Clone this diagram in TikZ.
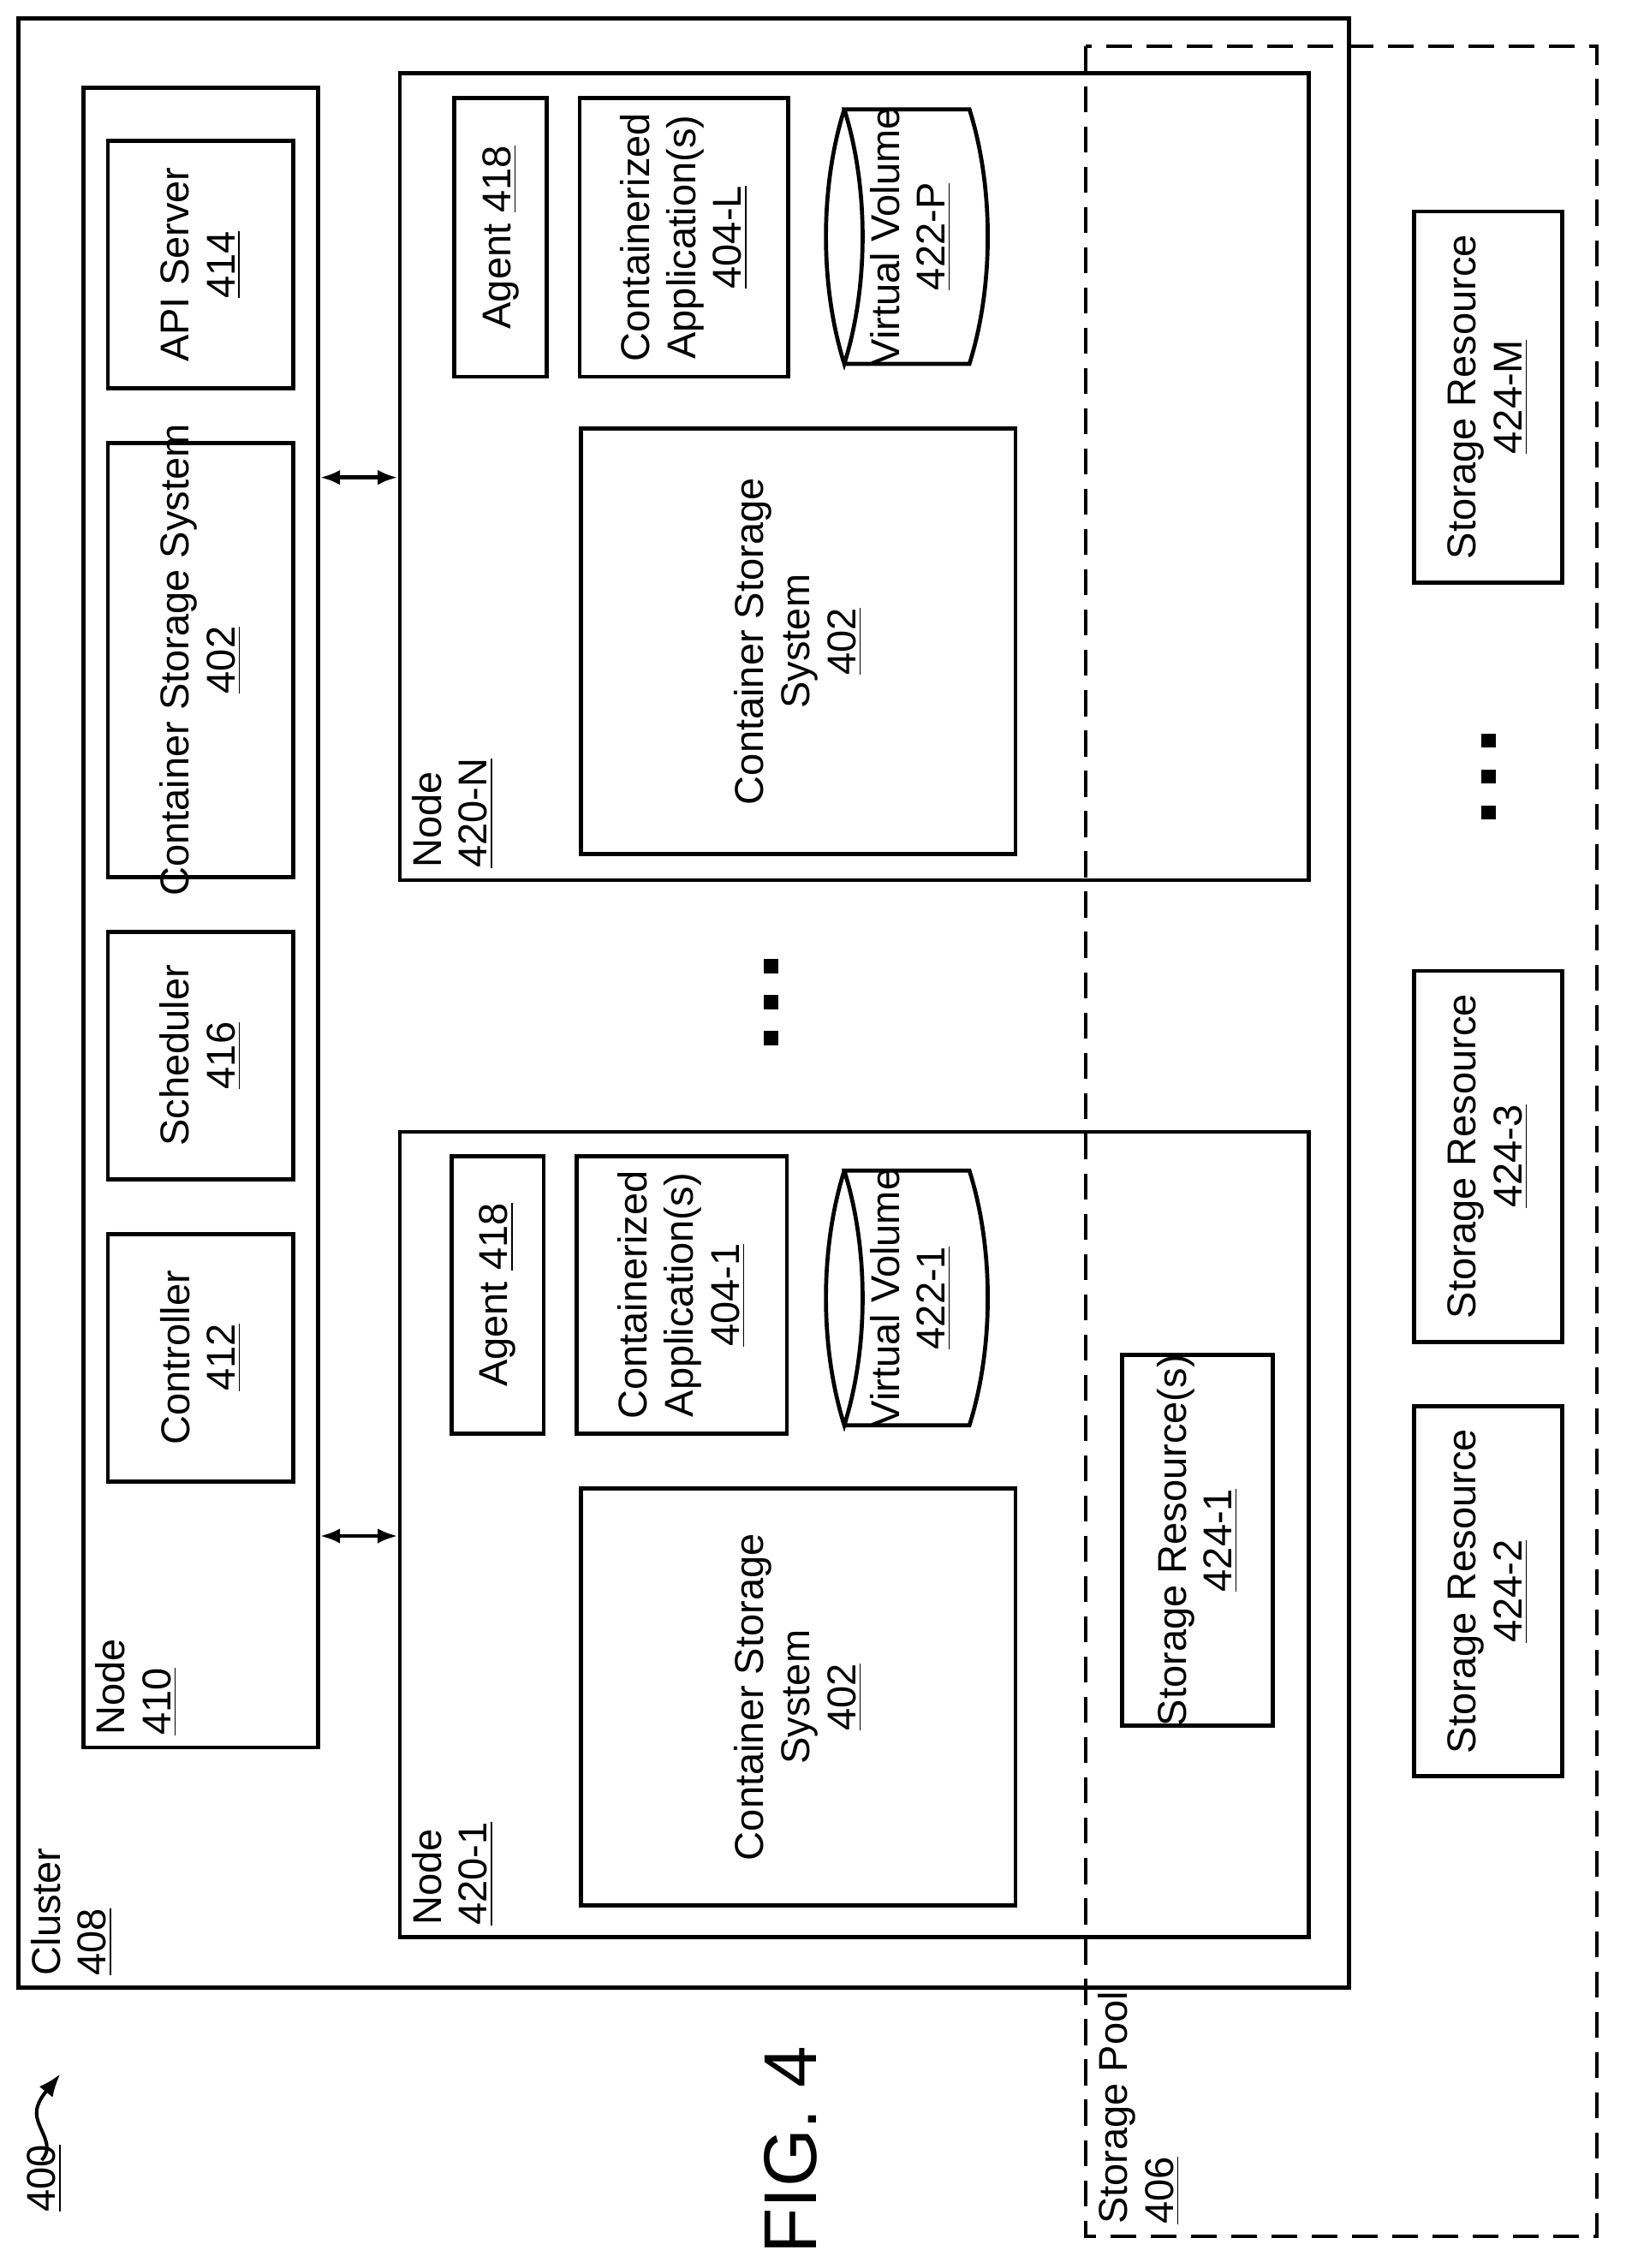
\documentclass[tikz,border=0pt]{standalone}
\usepackage{fontspec}
\setmainfont{Liberation Sans}
\usetikzlibrary{fit,arrows.meta}
\tikzset{
  box/.style={draw, line width=1.4pt},
  txt/.style={rotate=90, align=center, font=\fontsize{14}{16}\selectfont},
  lbl/.style={rotate=90, align=left, anchor=north west, inner sep=4pt, font=\fontsize{14}{16}\selectfont},
  dot/.style={fill, minimum size=5pt, inner sep=0pt}
}
\begin{document}
\begin{tikzpicture}[x=0.5pt, y=-0.5pt]
\useasboundingbox (0,0) rectangle (1130,1577);
% cluster and storage pool
\draw[box] (13,13) rectangle (938,1382);
\node[lbl] at (13,1382) {Cluster\\\underline{408}};
\draw[line width=1.2pt, dashed, dash pattern=on 9pt off 5pt] (755,32) rectangle (1110,1555);
\node[lbl] at (755,1555) {Storage Pool\\\underline{406}};
% node 410
\node[box, inner sep=0pt, fit={(58,61)(221,1215)}] (n410) {};
\node[lbl] at (58,1215) {Node\\\underline{410}};
\draw[box] (75,98) rectangle (204,270);
\node[txt] at (139.5,184) {API Server\\\underline{414}};
\draw[box] (75,308) rectangle (204,610);
\node[txt] at (139.5,459) {Container Storage System\\\underline{402}};
\draw[box] (75,648) rectangle (204,820);
\node[txt] at (139.5,734) {Scheduler\\\underline{416}};
\draw[box] (75,858) rectangle (204,1030);
\node[txt] at (139.5,944) {Controller\\\underline{412}};
% node 420-N
\node[box, inner sep=0pt, fit={(278,51)(910,612)}] (n420N) {};
\node[lbl] at (278,612) {Node\\\underline{420-N}};
\draw[box] (316,68) rectangle (380,262);
\node[txt] at (348,165) {Agent \underline{418}};
\draw[box] (403,68) rectangle (548,262);
\node[txt] at (475.5,165) {Containerized\\Application(s)\\\underline{404-L}};
\draw[box] (587,76) .. controls (570,130) and (570,199) .. (587,253)
  .. controls (604,199) and (604,130) .. (587,76) -- (674,76)
  .. controls (691,130) and (691,199) .. (674,253) -- (587,253);
\node[txt] at (633,164.5) {Virtual Volume\\\underline{422-P}};
\draw[box] (404,298) rectangle (706,594);
\node[txt] at (555,446) {Container Storage\\System\\\underline{402}};
% node 420-1
\node[box, inner sep=0pt, fit={(278,787)(910,1347)}] (n4201) {};
\node[lbl] at (278,1347) {Node\\\underline{420-1}};
\draw[box] (314,804) rectangle (378,997);
\node[txt] at (346,900.5) {Agent \underline{418}};
\draw[box] (401,804) rectangle (547,997);
\node[txt] at (474,900.5) {Containerized\\Application(s)\\\underline{404-1}};
\draw[box] (587,814) .. controls (570,868) and (570,937) .. (587,991)
  .. controls (604,937) and (604,868) .. (587,814) -- (674,814)
  .. controls (691,868) and (691,937) .. (674,991) -- (587,991);
\node[txt] at (633,902.5) {Virtual Volume\\\underline{422-1}};
\draw[box] (404,1035) rectangle (706,1325);
\node[txt] at (555,1180) {Container Storage\\System\\\underline{402}};
\draw[box] (780,942) rectangle (885,1200);
\node[txt] at (832.5,1071) {Storage Resource(s)\\\underline{424-1}};
% connectors
\coordinate (a1) at (0,332);
\coordinate (a2) at (0,1068);
\draw[line width=1.4pt, {Latex[length=7pt]}-{Latex[length=7pt]}] (n410.east |- a1) -- (n420N.west |- a1);
\draw[line width=1.4pt, {Latex[length=7pt]}-{Latex[length=7pt]}] (n410.east |- a2) -- (n4201.west |- a2);
% storage resources
\draw[box] (983,147) rectangle (1086,405);
\node[txt] at (1034.5,276) {Storage Resource\\\underline{424-M}};
\draw[box] (983,675) rectangle (1086,933);
\node[txt] at (1034.5,804) {Storage Resource\\\underline{424-3}};
\draw[box] (983,978) rectangle (1086,1235);
\node[txt] at (1034.5,1106.5) {Storage Resource\\\underline{424-2}};
% dots
\foreach \y in {672,697,722} \node[dot] at (536,\y) {};
\foreach \y in {515,540,565} \node[dot] at (1035,\y) {};
% figure label
\node[txt, anchor=west] (ref) at (31,1545) {\underline{400}};
\draw[line width=1.2pt, -{Latex[length=8pt]}] (29,1502) .. controls (40,1490) and (22,1478) .. (26,1465) .. controls (28,1458) and (34,1452) .. (42,1442);
\node[rotate=90, font=\fontsize{26}{30}\selectfont] (fig) at (550,1495) {FIG. 4};
\end{tikzpicture}
\end{document}
